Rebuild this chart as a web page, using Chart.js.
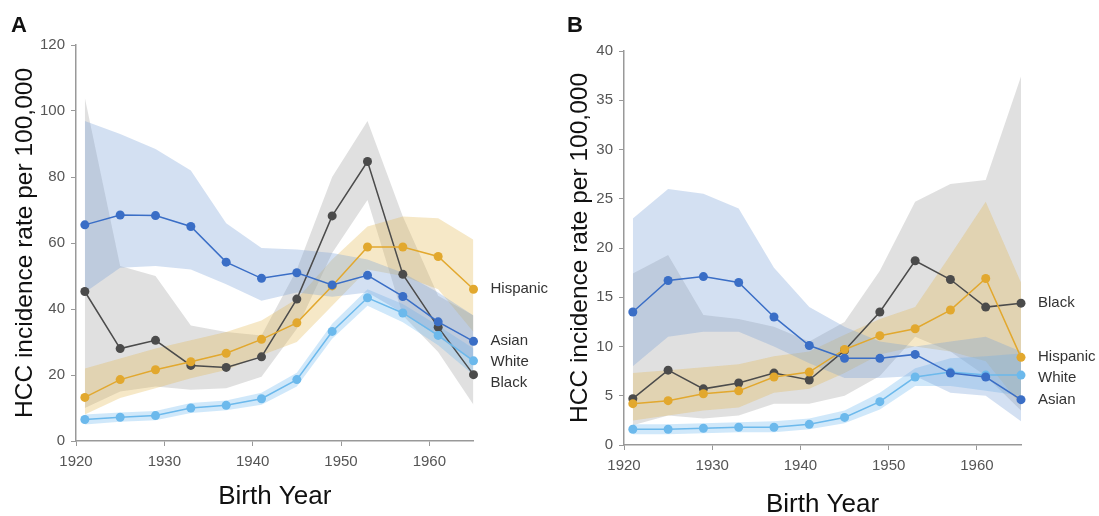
<!DOCTYPE html>
<html>
<head>
<meta charset="utf-8">
<title>HCC incidence by birth year</title>
<script src="https://cdn.jsdelivr.net/npm/chart.js@4.4.1/dist/chart.umd.min.js"></script>
<style>
  body { margin: 0; background: #fff; }
  #wrap { position: relative; width: 1099px; height: 516px; }
  canvas { position: absolute; top: 0; }
</style>
</head>
<body>
<div id="wrap">
  <canvas id="chartA" width="549" height="516" style="left:0"></canvas>
  <canvas id="chartB" width="550" height="516" style="left:549px"></canvas>
</div>
<script>
// birth cohorts (x values)
const years = [1921, 1925, 1929, 1933, 1937, 1941, 1945, 1949, 1953, 1957, 1961, 1965];
const groups = ['Asian', 'White', 'Hispanic', 'Black'];

// Panel A - rates and 95% bands
const asianA = [65.5, 68.5, 68.3, 65.0, 54.2, 49.3, 51.0, 47.3, 50.2, 43.8, 36.1, 30.2];
const asianA_lo = [45, 52.5, 53, 52, 47.5, 42.5, 45, 43.7, 45, 38.8, 31.6, 24];
const asianA_hi = [97, 93, 88.5, 82, 66, 58.5, 58, 57, 55, 51, 45, 38];
const whiteA = [6.5, 7.2, 7.7, 10.0, 10.8, 12.8, 18.6, 33.2, 43.4, 38.8, 32.0, 24.3];
const whiteA_lo = [5, 5.8, 6.3, 8.5, 9.3, 11, 16.5, 31, 41, 36, 29, 20];
const whiteA_hi = [8, 8.6, 9.1, 11.5, 12.3, 14.6, 20.7, 35.5, 46, 41.5, 35, 28];
const hispA = [13.2, 18.6, 21.6, 24.0, 26.6, 30.8, 35.8, 47.0, 58.8, 58.8, 55.9, 46.0];
const hispA_lo = [8, 13, 16, 19, 21.5, 26, 30, 41, 52, 50, 46, 33];
const hispA_hi = [22, 25, 28, 30.5, 33, 36.5, 43, 55, 65, 68, 67.5, 61];
const blackA = [45.3, 28.0, 30.5, 22.9, 22.3, 25.5, 43.0, 68.2, 84.7, 50.5, 34.5, 20.1];
const blackA_lo = [10, 15, 16.5, 15.5, 16, 19.5, 34, 57, 73, 38, 27, 11];
const blackA_hi = [104, 53, 50, 35, 33, 32, 52, 80, 97, 68, 44, 38];

// Panel B
const asianB = [13.5, 16.7, 17.1, 16.5, 13.0, 10.1, 8.8, 8.8, 9.2, 7.3, 6.9, 4.6];
const asianB_lo = [8, 11, 11.5, 11.5, 10, 8.3, 6.8, 6.8, 7, 5.3, 5, 2.4];
const asianB_hi = [23, 26, 25.5, 24, 18, 14, 12, 10.5, 10, 10.5, 11, 9.5];
const whiteB = [1.6, 1.6, 1.7, 1.8, 1.8, 2.1, 2.8, 4.4, 6.9, 7.4, 7.1, 7.1];
const whiteB_lo = [1.1, 1.1, 1.2, 1.3, 1.3, 1.6, 2.2, 3.6, 6.0, 6.0, 5.5, 5.0];
const whiteB_hi = [2.1, 2.1, 2.2, 2.3, 2.4, 2.7, 3.5, 5.3, 7.8, 8.8, 9.0, 9.3];
const hispB = [4.2, 4.5, 5.2, 5.5, 6.9, 7.4, 9.7, 11.1, 11.8, 13.7, 16.9, 8.9];
const hispB_lo = [2.5, 3, 3.5, 3.8, 5.3, 5.7, 7.3, 9.2, 10, 9.5, 8.5, 4];
const hispB_hi = [7.3, 7.6, 7.9, 8.2, 9, 9.5, 11.2, 12.8, 14, 19.3, 24.7, 16.5];
const blackB = [4.7, 7.6, 5.7, 6.3, 7.3, 6.6, 9.6, 13.5, 18.7, 16.8, 14.0, 14.4];
const blackB_lo = [2, 3, 2.7, 3, 4.2, 4.2, 5, 7, 11, 9.5, 7, 3.5];
const blackB_hi = [17.4, 19.3, 13.2, 12.8, 12, 10.5, 12.5, 17.7, 24.7, 26.5, 26.9, 37.4];

const FONT = '"Liberation Sans", Arial, Helvetica, sans-serif';
Chart.defaults.font.family = FONT;

const lineColors = { Asian: '#3a6ec6', White: '#6cb9ec', Hispanic: '#e2a82e', Black: '#4b4b4b' };
const bandColors = {
  Asian: 'rgba(120,160,215,0.33)',
  White: 'rgba(110,185,240,0.32)',
  Hispanic: 'rgba(225,180,70,0.30)',
  Black: 'rgba(160,160,160,0.33)'
};

function pts(vals) {
  return years.map((yr, i) => ({ x: yr, y: vals[i] }));
}

// one group = line with dots + lower/upper band pair (upper fills down to lower)
function groupSets(name, vals, lo, hi) {
  return [
    { label: name, data: pts(vals), borderColor: lineColors[name], backgroundColor: lineColors[name],
      borderWidth: 1.5, pointRadius: 4.5, pointBorderWidth: 0, tension: 0, order: 1, clip: false },
    { label: name + ' lo', data: pts(lo), borderWidth: 0, borderColor: 'transparent',
      pointRadius: 0, fill: false, order: 2 },
    { label: name + ' hi', data: pts(hi), borderWidth: 0, borderColor: 'transparent',
      pointRadius: 0, fill: '-1', backgroundColor: bandColors[name], order: 2 }
  ];
}

// group names at the right end, nudged apart when they would overlap
const endLabels = {
  id: 'endLabels',
  afterDatasetsDraw(chart, args, opts) {
    const ctx = chart.ctx;
    const ys = chart.scales.y;
    const area = chart.chartArea;
    const items = opts.names.map((n, i) => ({ n, py: ys.getPixelForValue(opts.last[i]) }));
    items.sort((a, b) => a.py - b.py);
    for (let i = 1; i < items.length; i++) {
      if (items[i].py < items[i - 1].py + 21) items[i].py = items[i - 1].py + 21;
    }
    ctx.save();
    ctx.font = '15px ' + FONT;
    ctx.fillStyle = '#333';
    ctx.textBaseline = 'middle';
    items.forEach(it => ctx.fillText(it.n, area.right + 17, it.py));
    ctx.font = 'bold 22px ' + FONT;
    ctx.fillStyle = '#111';
    ctx.fillText(opts.letter, opts.letterX, 26);
    ctx.restore();
  }
};

function makeChart(id, p) {
  const datasets = []
    .concat(groupSets('Asian', p.asian, p.asianLo, p.asianHi))
    .concat(groupSets('White', p.white, p.whiteLo, p.whiteHi))
    .concat(groupSets('Hispanic', p.hisp, p.hispLo, p.hispHi))
    .concat(groupSets('Black', p.black, p.blackLo, p.blackHi));

  return new Chart(document.getElementById(id), {
    type: 'line',
    data: { datasets },
    plugins: [endLabels],
    options: {
      responsive: false,
      animation: false,
      events: [],
      layout: { padding: { top: p.top, right: p.right, bottom: 0, left: 0 } },
      plugins: {
        legend: { display: false },
        tooltip: { enabled: false },
        endLabels: {
          names: groups,
          last: [p.asian, p.white, p.hisp, p.black].map(a => a[a.length - 1]),
          letter: p.letter,
          letterX: p.letterX
        }
      },
      scales: {
        x: {
          type: 'linear',
          min: 1920,
          max: 1965,
          afterFit: s => { s.height = p.xH; },
          ticks: { stepSize: 10, includeBounds: false, color: '#555', font: { size: 15 }, padding: 7,
                   callback: v => String(v) },
          grid: { drawOnChartArea: false, color: '#999', tickLength: 5 },
          border: { color: '#999', width: 1.5 },
          title: { display: true, text: 'Birth Year', color: '#111', font: { size: 26 },
                   padding: { top: 0, bottom: p.xTitlePad } }
        },
        y: {
          min: 0,
          max: p.yMax,
          afterFit: s => { s.width = p.yW; },
          ticks: { stepSize: p.yStep, color: '#555', font: { size: 15 }, padding: 6 },
          grid: { drawOnChartArea: false, color: '#999', tickLength: 5 },
          border: { color: '#999', width: 1.5 },
          title: { display: true, text: 'HCC incidence rate per 100,000', color: '#111',
                   font: { size: 24.5 }, padding: { top: p.yTitlePad, bottom: 0 } }
        }
      }
    }
  });
}

makeChart('chartA', {
  asian: asianA, asianLo: asianA_lo, asianHi: asianA_hi,
  white: whiteA, whiteLo: whiteA_lo, whiteHi: whiteA_hi,
  hisp: hispA, hispLo: hispA_lo, hispHi: hispA_hi,
  black: blackA, blackLo: blackA_lo, blackHi: blackA_hi,
  yMax: 120, yStep: 20, top: 45, right: 75.5, yW: 76, xH: 75,
  yTitlePad: 11, xTitlePad: 4, letter: 'A', letterX: 11
});

makeChart('chartB', {
  asian: asianB, asianLo: asianB_lo, asianHi: asianB_hi,
  white: whiteB, whiteLo: whiteB_lo, whiteHi: whiteB_hi,
  hisp: hispB, hispLo: hispB_lo, hispHi: hispB_hi,
  black: blackB, blackLo: blackB_lo, blackHi: blackB_hi,
  yMax: 40, yStep: 5, top: 51, right: 78, yW: 75, xH: 71,
  yTitlePad: 17, xTitlePad: -4, letter: 'B', letterX: 18
});
</script>
</body>
</html>
